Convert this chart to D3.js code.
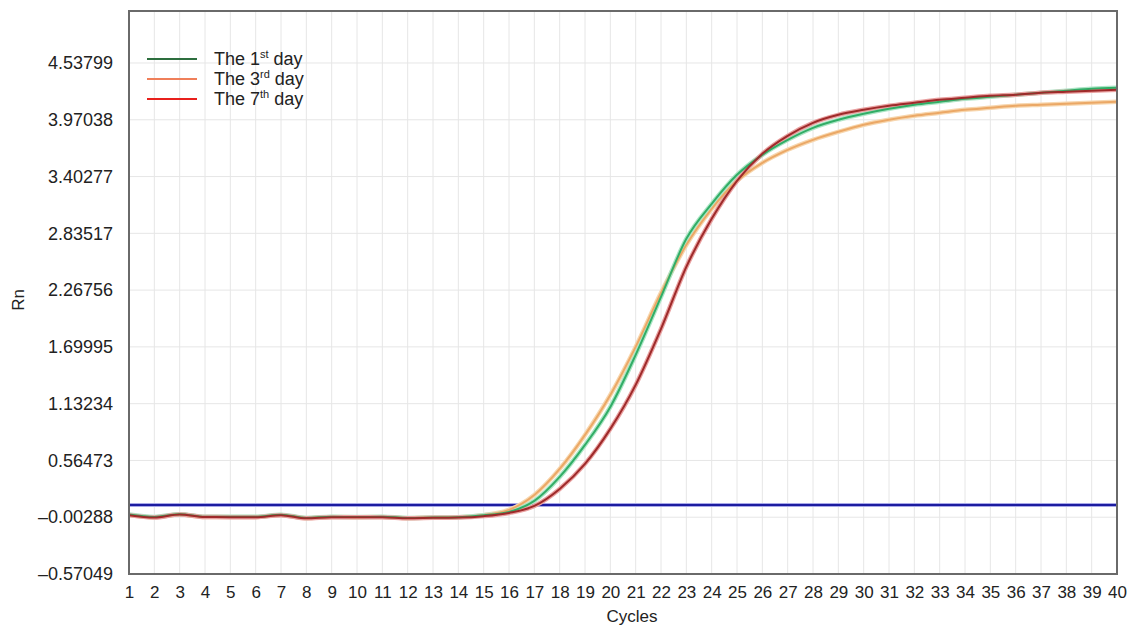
<!DOCTYPE html>
<html>
<head>
<meta charset="utf-8">
<script src="https://cdn.jsdelivr.net/npm/d3@7.9.0/dist/d3.min.js"></script>
<style>
  body { margin: 0; background: #fff; }
  svg { display: block; font-family: "Liberation Sans", Arial, Helvetica, sans-serif; }
</style>
</head>
<body>
<svg id="chart" width="1134" height="626"></svg>
<script>
const cycles = d3.range(1, 41);

const yTicks = [-0.57049, -0.00288, 0.56473, 1.13234, 1.69995, 2.26756, 2.83517, 3.40277, 3.97038, 4.53799];

const day1 = [0.025, 0.000, 0.028, 0.003, 0.002, 0.002, 0.022, -0.010, 0.002, -0.001, 0.002, -0.010, -0.006, -0.002, 0.016, 0.050,
  0.16, 0.40, 0.72, 1.10, 1.62, 2.20, 2.78, 3.13, 3.42, 3.62, 3.77, 3.89, 3.97, 4.03, 4.08, 4.12, 4.15, 4.18, 4.20, 4.22, 4.24, 4.26, 4.28, 4.29];
const day3 = [0.020, -0.004, 0.025, 0.000, 0.000, 0.000, 0.020, -0.012, 0.000, -0.003, 0.000, -0.012, -0.007, -0.003, 0.018, 0.070,
  0.22, 0.48, 0.82, 1.22, 1.70, 2.24, 2.72, 3.08, 3.36, 3.54, 3.67, 3.77, 3.85, 3.92, 3.97, 4.01, 4.04, 4.07, 4.09, 4.11, 4.12, 4.13, 4.14, 4.15];
const day7 = [0.018, -0.006, 0.024, -0.001, -0.002, -0.002, 0.018, -0.014, -0.002, -0.004, -0.002, -0.014, -0.009, -0.006, 0.008, 0.040,
  0.11, 0.28, 0.53, 0.88, 1.32, 1.88, 2.50, 2.98, 3.36, 3.63, 3.81, 3.94, 4.02, 4.07, 4.11, 4.14, 4.17, 4.19, 4.21, 4.22, 4.24, 4.25, 4.26, 4.27];

const threshold = 0.12;

const series = [
  { name: '3rd', values: day3, halo: '#f7d6ae', core: '#eba866' },
  { name: '1st', values: day1, halo: '#ace6c6', core: '#31ad66' },
  { name: '7th', values: day7, halo: '#e9a0a0', core: '#9e2a2a' }
];
const legendItems = [
  { sup: 'st', num: '1', color: '#2d6e3e' },
  { sup: 'rd', num: '3', color: '#ef7f5a' },
  { sup: 'th', num: '7', color: '#e8201c' }
];

const svg = d3.select('#chart');
const plotL = 129, plotR = 1117, plotT = 11, plotB = 574;

const x = d3.scaleLinear().domain([1, 40]).range([plotL, plotR]);
const y = d3.scaleLinear().domain([-0.57049, 5.0578]).range([plotB, plotT]);

// grid
svg.append('g')
  .selectAll('line')
  .data(cycles.slice(1, -1))
  .join('line')
  .attr('x1', d => x(d)).attr('x2', d => x(d))
  .attr('y1', plotT).attr('y2', plotB)
  .attr('stroke', '#e6e6e6').attr('stroke-width', 1);

svg.append('g')
  .selectAll('line')
  .data(yTicks.slice(1))
  .join('line')
  .attr('x1', plotL).attr('x2', plotR)
  .attr('y1', d => y(d)).attr('y2', d => y(d))
  .attr('stroke', '#e6e6e6').attr('stroke-width', 1);

// threshold
svg.append('line')
  .attr('x1', plotL).attr('x2', plotR)
  .attr('y1', y(threshold)).attr('y2', y(threshold))
  .attr('stroke', '#a8a8e8').attr('stroke-width', 4);
svg.append('line')
  .attr('x1', plotL).attr('x2', plotR)
  .attr('y1', y(threshold)).attr('y2', y(threshold))
  .attr('stroke', '#1c1ca0').attr('stroke-width', 2);

// curves
const line = d3.line()
  .x((d, i) => x(cycles[i]))
  .y(d => y(d))
  .curve(d3.curveMonotoneX);

series.forEach(s => {
  svg.append('path').attr('d', line(s.values))
    .attr('fill', 'none').attr('stroke', s.halo).attr('stroke-width', 4.5).attr('stroke-linejoin', 'round');
});
series.forEach(s => {
  svg.append('path').attr('d', line(s.values))
    .attr('fill', 'none').attr('stroke', s.core).attr('stroke-width', 2).attr('stroke-linejoin', 'round');
});

// frame
svg.append('rect')
  .attr('x', plotL).attr('y', plotT)
  .attr('width', plotR - plotL).attr('height', plotB - plotT)
  .attr('fill', 'none').attr('stroke', '#6a6a6a').attr('stroke-width', 2);

// axes
const yAxis = svg.append('g')
  .attr('transform', `translate(${plotL},0)`)
  .call(d3.axisLeft(y).tickValues(yTicks).tickSize(0).tickPadding(16)
    .tickFormat(d => (d < 0 ? '\u2013' : '') + Math.abs(d).toFixed(5)));
yAxis.select('.domain').remove();
yAxis.selectAll('text').attr('font-size', 18).attr('fill', '#222').attr('font-family', null);

const xAxis = svg.append('g')
  .attr('transform', `translate(0,${plotB})`)
  .call(d3.axisBottom(x).tickValues(cycles).tickSize(0).tickPadding(12).tickFormat(d3.format('d')));
xAxis.select('.domain').remove();
xAxis.selectAll('text').attr('font-size', 17).attr('fill', '#222').attr('font-family', null);

svg.append('text')
  .attr('x', 632).attr('y', 622)
  .attr('text-anchor', 'middle')
  .attr('font-size', 17).attr('fill', '#222')
  .text('Cycles');

svg.append('text')
  .attr('transform', 'translate(24,300) rotate(-90)')
  .attr('text-anchor', 'middle')
  .attr('font-size', 17).attr('fill', '#222')
  .text('Rn');

// legend
const lg = svg.append('g');
legendItems.forEach((d, i) => {
  const yy = 59 + i * 20;
  lg.append('line')
    .attr('x1', 147).attr('x2', 197).attr('y1', yy).attr('y2', yy)
    .attr('stroke', d.color).attr('stroke-width', 2);
  const t = lg.append('text')
    .attr('x', 214).attr('y', yy + 6)
    .attr('font-size', 18).attr('fill', '#222');
  t.append('tspan').text('The ' + d.num);
  t.append('tspan').attr('font-size', 11).attr('dy', -7).text(d.sup);
  t.append('tspan').attr('dy', 7).text(' day');
});
</script>
</body>
</html>
